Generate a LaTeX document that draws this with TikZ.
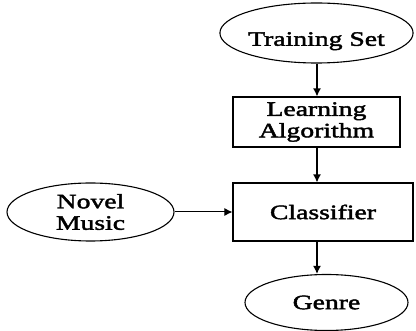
\documentclass[tikz,border=0pt]{standalone}
\usepackage{fontspec}
\setmainfont{Liberation Serif}[FakeStretch=1.35,FakeBold=2]
\usetikzlibrary{shapes.geometric,arrows.meta}
\begin{document}
\begin{tikzpicture}[x=1pt,y=-1pt,
  every node/.style={font=\fontsize{20.5}{21.5}\selectfont, align=center, inner sep=0pt, line width=1.1pt, draw},
  oval/.style={ellipse, draw},
  boxn/.style={rectangle, draw},
  arr/.style={line width=1.4pt, -{Latex[length=8pt,width=8pt]}}]
\useasboundingbox (0,0) rectangle (416,331);
\node[oval, minimum width=163, minimum height=60] (ts) at (316.5,33) {\raisebox{-6pt}[\height][0pt]{Training Set}};
\node[boxn, minimum width=167, minimum height=50] (la) at (316.5,122) {Learning\\Algorithm};
\node[boxn, minimum width=180, minimum height=58] (cl) at (323,212) {Classifier};
\node[oval, minimum width=167, minimum height=58] (nm) at (90.5,212) {Novel\\Music};
\node[oval, minimum width=163, minimum height=56] (ge) at (326.5,302.5) {Genre};
\draw[arr] (ts.south -| 317,0) -- (la.north -| 317,0);
\draw[arr] (la.south -| 317,0) -- (cl.north -| 317,0);
\draw[arr] (cl.south -| 317,0) -- (ge.north -| 317,0);
\draw[arr, line width=1pt] (nm.east) -- (cl.west);
\end{tikzpicture}
\end{document}
